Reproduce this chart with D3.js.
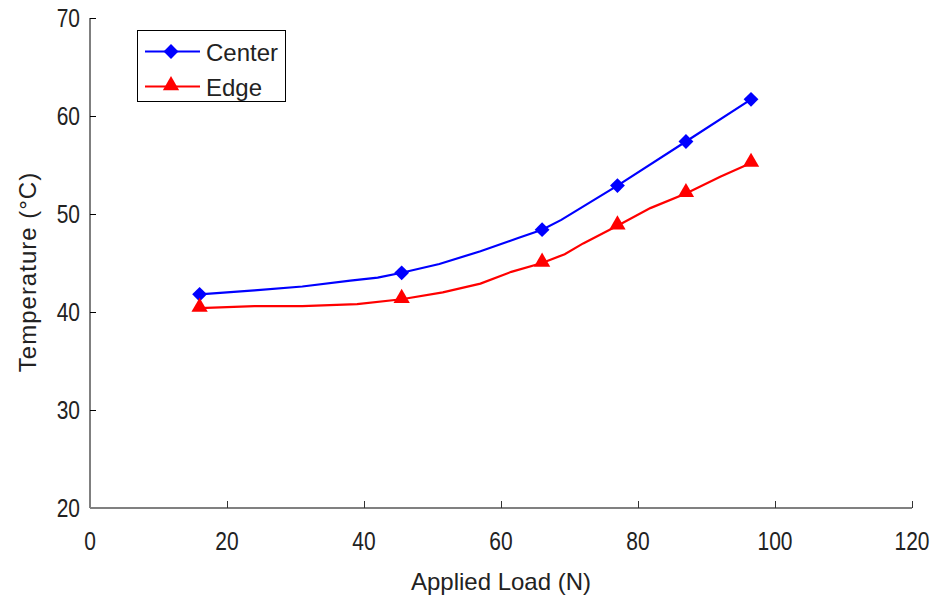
<!DOCTYPE html>
<html>
<head>
<meta charset="utf-8">
<script src="https://cdn.jsdelivr.net/npm/d3@7"></script>
<style>
  html, body { margin: 0; padding: 0; background: #fff; }
  svg text { font-family: "Liberation Sans", Arial, sans-serif; fill: #222; }
</style>
</head>
<body>
<svg id="chart" width="936" height="599"></svg>
<script>
// Measured loads (N) along each curve, and which points carry a marker
const centerLoad = [16, 24, 31, 38, 42, 45.5, 51, 57, 62.5, 66, 68.8, 77, 87, 96.5];
const centerTemp = [41.8, 42.2, 42.6, 43.2, 43.5, 44.0, 44.9, 46.2, 47.55, 48.4, 49.4, 52.9, 57.4, 61.7];
const edgeLoad = [16, 24, 31, 39, 45.5, 51.5, 57, 61.5, 66, 69.3, 72, 77, 81.8, 87, 92, 96.5];
const edgeTemp = [40.4, 40.6, 40.6, 40.8, 41.3, 42.0, 42.9, 44.1, 45.0, 45.9, 47.0, 48.8, 50.6, 52.1, 53.8, 55.2];
const markerLoads = [16, 45.5, 66, 77, 87, 96.5];

const xTicks = [0, 20, 40, 60, 80, 100, 120];
const yTicks = [20, 30, 40, 50, 60, 70];
const seriesNames = ["Center", "Edge"];
const seriesColors = ["#0000ff", "#ff0000"];

const svg = d3.select("#chart");
const pLeft = 90, pRight = 912, pTop = 18, pBottom = 508;
const digitSquash = 0.84;   // tick numerals are set in a condensed face

const x = d3.scaleLinear().domain([0, 120]).range([pLeft, pRight]);
const y = d3.scaleLinear().domain([20, 70]).range([pBottom, pTop]);

// Y axis: black line, ticks pointing into the plot
const yAxis = svg.append("g")
  .attr("transform", `translate(${pLeft},0)`)
  .call(d3.axisRight(y).tickValues(yTicks).tickSize(6).tickFormat(""));
yAxis.select(".domain").attr("stroke", "#000").attr("d", `M0,${pTop}V${pBottom}`);
yAxis.selectAll(".tick line").attr("stroke", "#000");
yAxis.selectAll(".tick").filter(d => d === 20).remove();

svg.append("g").selectAll("text").data(yTicks).join("text")
  .attr("transform", d => `translate(${pLeft - 10},${y(d)}) scale(${digitSquash},1)`)
  .attr("text-anchor", "end").attr("dominant-baseline", "central")
  .attr("font-size", 25).text(d => d);

// X axis: grey baseline, ticks pointing up
const xAxis = svg.append("g")
  .attr("transform", `translate(0,${pBottom})`)
  .call(d3.axisTop(x).tickValues(xTicks).tickSize(7).tickFormat(""));
xAxis.select(".domain").attr("stroke", "#808080").attr("stroke-width", 2).attr("d", `M${pLeft},0H${pRight}`);
xAxis.selectAll(".tick line").attr("stroke", "#333");
xAxis.selectAll(".tick").filter(d => d === 0).remove();

svg.append("g").selectAll("text").data(xTicks).join("text")
  .attr("transform", d => `translate(${x(d)},${pBottom + 33}) scale(${digitSquash},1)`)
  .attr("text-anchor", "middle").attr("dominant-baseline", "central")
  .attr("font-size", 25).text(d => d);

// Axis titles
svg.append("text").attr("x", 501).attr("y", 581)
  .attr("text-anchor", "middle").attr("dominant-baseline", "central")
  .attr("font-size", 24).text("Applied Load (N)");
svg.append("text").attr("transform", `translate(27,272) rotate(-90)`)
  .attr("text-anchor", "middle").attr("dominant-baseline", "central")
  .attr("font-size", 24).attr("letter-spacing", 1).text("Temperature (°C)");

const line = d3.line().x(d => x(d[0])).y(d => y(d[1]));
const centerPts = centerLoad.map((v, i) => [v, centerTemp[i]]);
const edgePts = edgeLoad.map((v, i) => [v, edgeTemp[i]]);

svg.append("path").datum(centerPts).attr("d", line)
  .attr("fill", "none").attr("stroke", seriesColors[0]).attr("stroke-width", 2.2);
svg.append("path").datum(edgePts).attr("d", line)
  .attr("fill", "none").attr("stroke", seriesColors[1]).attr("stroke-width", 2.2);

const diamond = d3.symbol().type(d3.symbolDiamond2).size(140);
const triangle = d3.symbol().type(d3.symbolTriangle).size(115);

svg.append("g").selectAll("path").data(centerPts.filter(p => markerLoads.includes(p[0]))).join("path")
  .attr("d", diamond()).attr("fill", seriesColors[0])
  .attr("transform", d => `translate(${x(d[0])},${y(d[1])})`);
svg.append("g").selectAll("path").data(edgePts.filter(p => markerLoads.includes(p[0]))).join("path")
  .attr("d", triangle()).attr("fill", seriesColors[1])
  .attr("transform", d => `translate(${x(d[0])},${y(d[1]) - 1})`);

// Legend
const lg = svg.append("g");
lg.append("rect").attr("x", 137.5).attr("y", 30.5).attr("width", 148).attr("height", 71)
  .attr("fill", "#fff").attr("stroke", "#000").attr("stroke-width", 1);
const rows = [51.5, 86.5];
seriesNames.forEach((name, i) => {
  lg.append("line").attr("x1", 145).attr("x2", 200).attr("y1", rows[i]).attr("y2", rows[i])
    .attr("stroke", seriesColors[i]).attr("stroke-width", 2.2);
  lg.append("path").attr("d", i === 0 ? diamond() : triangle())
    .attr("fill", seriesColors[i]).attr("transform", `translate(171,${rows[i] - (i ? 1 : 0)})`);
  lg.append("text").attr("x", 206).attr("y", rows[i] + 1).attr("dominant-baseline", "central")
    .attr("font-size", 24).text(name);
});
</script>
</body>
</html>
